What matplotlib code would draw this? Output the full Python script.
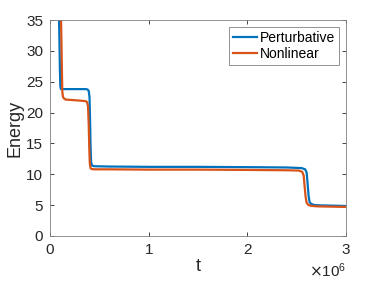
import matplotlib
matplotlib.use("Agg")
import matplotlib.pyplot as plt
from matplotlib.ticker import ScalarFormatter
import numpy as np

plt.rcParams['font.family'] = ['Liberation Sans', 'DejaVu Sans']

# time (units of 1e6) and energy
t_pert = [0.085, 0.095, 0.100, 0.104, 0.110, 0.20, 0.30, 0.36, 0.38, 0.392, 0.400,
          0.405, 0.410, 0.416, 0.425, 0.45, 0.6, 1.0, 1.5, 2.0, 2.4, 2.55, 2.585,
          2.60, 2.61, 2.62, 2.63, 2.645, 2.68, 2.75, 2.9, 3.0]
e_pert = [40, 32, 27, 24.3, 23.8, 23.8, 23.8, 23.8, 23.75, 23.5, 22.5,
          19, 15, 12, 11.4, 11.3, 11.25, 11.2, 11.2, 11.15, 11.1, 11.0, 10.8,
          10.3, 8.5, 6.5, 5.5, 5.2, 5.0, 4.95, 4.9, 4.85]

t_nonl = [0.105, 0.115, 0.120, 0.124, 0.130, 0.140, 0.16, 0.25, 0.33, 0.36, 0.375,
          0.385, 0.392, 0.398, 0.403, 0.410, 0.42, 0.45, 0.6, 1.0, 1.5, 2.0, 2.4,
          2.52, 2.555, 2.57, 2.58, 2.59, 2.60, 2.615, 2.64, 2.7, 2.85, 3.0]
e_nonl = [40, 32, 27, 23.5, 22.6, 22.3, 22.1, 22.0, 21.9, 21.85, 21.7,
          21.0, 18, 14, 11.8, 11.0, 10.85, 10.8, 10.8, 10.75, 10.75, 10.7, 10.65,
          10.6, 10.4, 9.8, 8.0, 6.3, 5.4, 5.05, 4.9, 4.8, 4.75, 4.7]

blue = '#0072BD'
orange = '#D95319'
axcol = '#262626'

fig = plt.figure(figsize=(3.82, 2.86), dpi=100)
ax = fig.add_axes([0.131, 0.175, 0.775, 0.755])

ax.plot(np.array(t_pert) * 1e6, e_pert, color=blue, lw=1.6, label='Perturbative')
ax.plot(np.array(t_nonl) * 1e6, e_nonl, color=orange, lw=1.6, label='Nonlinear')

ax.set_xlim(0, 3e6)
ax.set_ylim(0, 35)
ax.set_xticks([0, 1e6, 2e6, 3e6])
ax.set_yticks(range(0, 36, 5))
fmt = ScalarFormatter(useMathText=True)
fmt.set_powerlimits((0, 0))
ax.xaxis.set_major_formatter(fmt)
ax.xaxis.get_offset_text().set_fontsize(11)
ax.xaxis.get_offset_text().set_color(axcol)

ax.tick_params(direction='in', length=3, width=0.6, labelsize=11, colors=axcol,
               top=True, right=True, pad=5)
for s in ax.spines.values():
    s.set_color('#808080')
    s.set_linewidth(0.6)

ax.set_xlabel('t', fontsize=13, color=axcol, labelpad=1)
ax.set_ylabel('Energy', fontsize=13, color=axcol, labelpad=2)

leg = ax.legend(loc='upper right', fontsize=10, handlelength=1.7, handletextpad=0.2,
                borderpad=0.3, labelspacing=0.15, fancybox=False, framealpha=1,
                borderaxespad=0.5)
leg.get_frame().set_edgecolor('#808080')
leg.get_frame().set_linewidth(0.6)

fig.savefig('out.png', dpi=100)
